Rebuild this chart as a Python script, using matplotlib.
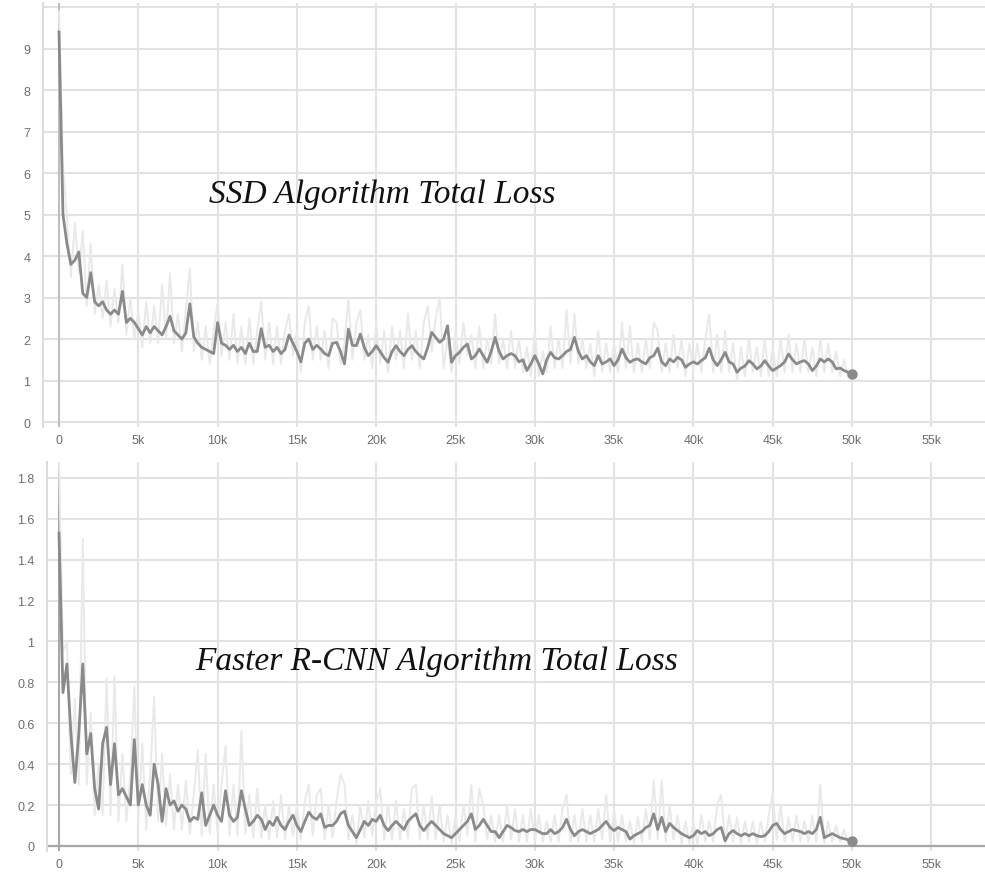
import numpy as np
import matplotlib.pyplot as plt

# training steps, one reading every 250 steps
steps = np.arange(0, 50001, 250)

ssd_smooth = [
    9.4, 5.0, 4.3, 3.8, 3.9, 4.1, 3.1, 3.0, 3.6, 2.9,
    2.8, 2.9, 2.7, 2.6, 2.7, 2.6, 3.15, 2.4, 2.5, 2.4,
    2.25, 2.1, 2.3, 2.15, 2.3, 2.2, 2.1, 2.3, 2.55, 2.2,
    2.1, 2.0, 2.15, 2.85, 2.05, 1.9, 1.8, 1.75, 1.7, 1.65,
    2.4, 1.9, 1.85, 1.75, 1.85, 1.7, 1.8, 1.65, 1.9, 1.7,
    1.7, 2.25, 1.8, 1.85, 1.7, 1.8, 1.65, 1.75, 2.1, 1.9,
    1.7, 1.45, 1.9, 2.0, 1.75, 1.85, 1.76, 1.65, 1.6, 1.9,
    1.92, 1.7, 1.4, 2.24, 1.85, 1.84, 2.12, 1.8, 1.6, 1.7,
    1.84, 1.7, 1.55, 1.44, 1.7, 1.84, 1.7, 1.6, 1.75, 1.84,
    1.7, 1.6, 1.52, 1.8, 2.16, 2.04, 1.92, 2.0, 2.32, 1.44,
    1.6, 1.68, 1.8, 1.88, 1.52, 1.6, 1.76, 1.6, 1.44, 1.7,
    2.04, 1.7, 1.52, 1.6, 1.65, 1.6, 1.45, 1.5, 1.24, 1.4,
    1.6, 1.4, 1.16, 1.5, 1.68, 1.55, 1.52, 1.6, 1.7, 1.75,
    2.04, 1.7, 1.52, 1.6, 1.45, 1.36, 1.6, 1.4, 1.45, 1.52,
    1.36, 1.5, 1.76, 1.55, 1.44, 1.5, 1.52, 1.45, 1.4, 1.55,
    1.6, 1.78, 1.45, 1.36, 1.52, 1.45, 1.56, 1.5, 1.32, 1.4,
    1.45, 1.4, 1.48, 1.55, 1.78, 1.5, 1.36, 1.5, 1.68, 1.45,
    1.4, 1.2, 1.3, 1.35, 1.48, 1.4, 1.28, 1.35, 1.48, 1.35,
    1.24, 1.3, 1.36, 1.45, 1.64, 1.5, 1.4, 1.45, 1.48, 1.4,
    1.24, 1.35, 1.52, 1.45, 1.52, 1.45, 1.28, 1.3, 1.24, 1.2,
    1.16,
]

ssd_raw = [
    9.9, 6.2, 4.9, 3.5, 4.8, 3.6, 4.6, 2.8, 4.3, 2.6,
    3.3, 2.5, 3.4, 2.3, 3.2, 2.4, 3.8, 2.1, 3.0, 2.0,
    2.7, 1.8, 2.9, 1.9, 2.8, 1.9, 3.3, 2.0, 3.6, 1.9,
    2.6, 1.7, 2.7, 3.7, 1.7, 2.4, 1.5, 2.3, 1.4, 2.2,
    2.9, 1.6, 2.4, 1.5, 2.6, 1.4, 2.3, 1.4, 2.5, 1.4,
    2.2, 2.9, 1.5, 2.4, 1.4, 2.3, 1.4, 2.2, 2.6, 1.6,
    2.2, 1.2, 2.4, 2.8, 1.5, 2.3, 1.5, 2.2, 1.3, 2.5,
    2.4, 1.4, 1.9, 3.0, 1.5, 2.4, 2.7, 1.5, 2.1, 1.3,
    2.4, 1.4, 2.2, 1.2, 2.3, 1.5, 2.2, 1.3, 2.6, 1.5,
    2.2, 1.3, 2.4, 2.8, 1.7, 2.5, 3.0, 1.3, 2.0, 1.2,
    2.2, 1.4, 2.4, 1.6, 2.1, 1.3, 2.3, 1.3, 2.0, 1.4,
    2.6, 1.4, 2.0, 1.3, 2.2, 1.3, 2.0, 1.2, 1.8, 1.1,
    2.2, 1.1, 1.7, 1.2, 2.3, 1.3, 2.0, 1.3, 2.7, 1.4,
    2.6, 1.4, 2.0, 1.3, 1.9, 1.1, 2.2, 1.2, 1.9, 1.2,
    1.9, 1.2, 2.4, 1.3, 2.3, 1.2, 1.9, 1.2, 2.0, 1.3,
    2.4, 2.2, 1.2, 1.9, 1.2, 2.1, 1.3, 2.0, 1.1, 1.9,
    1.2, 1.9, 1.2, 2.0, 2.6, 1.2, 2.1, 1.2, 2.2, 1.2,
    1.9, 1.0, 1.8, 1.1, 2.0, 1.2, 1.8, 1.1, 2.0, 1.1,
    1.8, 1.1, 2.0, 1.2, 2.1, 1.2, 1.9, 1.2, 2.0, 1.2,
    1.8, 1.1, 2.0, 1.2, 1.9, 1.2, 1.7, 1.1, 1.5, 1.1,
    1.15,
]

frcnn_smooth = [
    1.53, 0.75, 0.89, 0.55, 0.31, 0.55, 0.89, 0.45, 0.55, 0.28,
    0.18, 0.5, 0.58, 0.3, 0.5, 0.25, 0.28, 0.24, 0.2, 0.52,
    0.2, 0.3, 0.2, 0.15, 0.4, 0.3, 0.12, 0.28, 0.2, 0.22,
    0.17, 0.2, 0.18, 0.12, 0.14, 0.13, 0.26, 0.1, 0.15, 0.2,
    0.15, 0.12, 0.27, 0.15, 0.12, 0.14, 0.27, 0.18, 0.1, 0.12,
    0.15, 0.13, 0.08, 0.12, 0.1, 0.14, 0.1, 0.08, 0.12, 0.15,
    0.1, 0.07, 0.12, 0.165, 0.14, 0.13, 0.157, 0.09, 0.1, 0.1,
    0.12, 0.157, 0.17, 0.1, 0.07, 0.04, 0.08, 0.12, 0.1, 0.13,
    0.12, 0.15, 0.1, 0.075, 0.1, 0.12, 0.1, 0.08, 0.12, 0.14,
    0.157, 0.1, 0.075, 0.1, 0.12, 0.1, 0.08, 0.06, 0.05, 0.04,
    0.06, 0.08, 0.1, 0.12, 0.157, 0.08, 0.1, 0.13, 0.1, 0.07,
    0.07, 0.04, 0.07, 0.1, 0.09, 0.075, 0.07, 0.08, 0.07, 0.08,
    0.08, 0.07, 0.06, 0.06, 0.08, 0.06, 0.07, 0.09, 0.13, 0.08,
    0.05, 0.07, 0.08, 0.07, 0.06, 0.07, 0.08, 0.1, 0.12, 0.09,
    0.075, 0.09, 0.08, 0.07, 0.033, 0.05, 0.06, 0.07, 0.09, 0.1,
    0.157, 0.08, 0.14, 0.07, 0.11, 0.09, 0.075, 0.06, 0.05, 0.04,
    0.05, 0.075, 0.06, 0.07, 0.05, 0.06, 0.08, 0.09, 0.025, 0.06,
    0.075, 0.06, 0.05, 0.06, 0.05, 0.06, 0.05, 0.045, 0.05, 0.07,
    0.1, 0.11, 0.08, 0.06, 0.07, 0.08, 0.075, 0.07, 0.06, 0.07,
    0.06, 0.08, 0.14, 0.04, 0.05, 0.06, 0.05, 0.04, 0.035, 0.03,
    0.025,
]

frcnn_raw = [
    1.88, 0.95, 1.0, 0.35, 0.72, 0.3, 1.5, 0.3, 0.65, 0.15,
    0.4, 0.15, 0.82, 0.15, 0.83, 0.12, 0.45, 0.12, 0.35, 0.78,
    0.12, 0.5, 0.08, 0.35, 0.73, 0.12, 0.45, 0.1, 0.35, 0.08,
    0.3, 0.08, 0.32, 0.06, 0.25, 0.47, 0.05, 0.45, 0.06, 0.3,
    0.06, 0.3, 0.49, 0.05, 0.3, 0.05, 0.56, 0.06, 0.25, 0.04,
    0.28, 0.04, 0.2, 0.03, 0.22, 0.04, 0.25, 0.03, 0.2, 0.05,
    0.2, 0.03, 0.22, 0.3, 0.05, 0.25, 0.28, 0.03, 0.2, 0.04,
    0.22, 0.35, 0.3, 0.03, 0.15, 0.01, 0.2, 0.04, 0.22, 0.05,
    0.22, 0.28, 0.03, 0.2, 0.03, 0.22, 0.03, 0.18, 0.04, 0.28,
    0.3, 0.03, 0.2, 0.03, 0.24, 0.03, 0.2, 0.02, 0.15, 0.01,
    0.15, 0.02, 0.2, 0.05, 0.3, 0.02, 0.28, 0.2, 0.03, 0.15,
    0.02, 0.15, 0.02, 0.2, 0.03, 0.18, 0.02, 0.15, 0.02, 0.18,
    0.02, 0.15, 0.02, 0.12, 0.02, 0.15, 0.02, 0.18, 0.25, 0.02,
    0.15, 0.02, 0.18, 0.02, 0.15, 0.02, 0.18, 0.03, 0.25, 0.02,
    0.18, 0.02, 0.15, 0.02, 0.12, 0.01, 0.14, 0.02, 0.18, 0.03,
    0.32, 0.03, 0.32, 0.02, 0.2, 0.03, 0.15, 0.01, 0.12, 0.01,
    0.12, 0.01, 0.15, 0.02, 0.12, 0.02, 0.2, 0.25, 0.01, 0.15,
    0.02, 0.14, 0.01, 0.12, 0.02, 0.12, 0.01, 0.12, 0.02, 0.15,
    0.26, 0.03, 0.2, 0.02, 0.14, 0.02, 0.15, 0.02, 0.12, 0.02,
    0.15, 0.02, 0.3, 0.01, 0.12, 0.02, 0.1, 0.02, 0.08, 0.02,
    0.025,
]

x_ticks = [0, 5000, 10000, 15000, 20000, 25000, 30000, 35000, 40000, 45000, 50000, 55000]
x_labels = ['0', '5k', '10k', '15k', '20k', '25k', '30k', '35k', '40k', '45k', '50k', '55k']
ssd_yticks = [0, 1, 2, 3, 4, 5, 6, 7, 8, 9, 10]
ssd_ylabels = ['0', '1', '2', '3', '4', '5', '6', '7', '8', '9', '']
frcnn_yticks = [0, 0.2, 0.4, 0.6, 0.8, 1.0, 1.2, 1.4, 1.6, 1.8]
frcnn_ylabels = ['0', '0.2', '0.4', '0.6', '0.8', '1', '1.2', '1.4', '1.6', '1.8']

W, H = 985, 878
fig = plt.figure(figsize=(W / 100, H / 100), dpi=100)
fig.patch.set_facecolor('white')

grid_c = '#e2e2e2'
line_c = '#8a8a8a'
raw_c = '#e9e9e9'
tick_font = dict(family=['Liberation Sans', 'DejaVu Sans'], size=9)


def panel(rect, xlim, ylim, smooth, raw, yticks, ylabels, zero_c, zero_h, title, tpos):
    ax = fig.add_axes(rect)
    ax.set_xlim(*xlim)
    ax.set_ylim(*ylim)
    ax.set_xticks(x_ticks)
    ax.set_xticklabels(x_labels, **tick_font)
    ax.set_yticks(yticks)
    ax.set_yticklabels(ylabels, **tick_font)
    ax.tick_params(length=0, colors='#6e6e6e', pad=5)
    ax.tick_params(axis='y', pad=9)
    ax.grid(True, color=grid_c, lw=1.5)
    ax.set_axisbelow(True)
    for s in ax.spines.values():
        s.set_visible(False)
    ax.spines['left'].set_visible(True)
    ax.spines['left'].set_color('#dcdcdc')
    ax.spines['left'].set_linewidth(1.5)
    ax.axvline(0, color=zero_c, lw=1.4, zorder=1)
    if zero_h:
        ax.axhline(0, color=zero_c, lw=1.6, zorder=1)
    ax.plot(steps, raw, color=raw_c, lw=1.4, zorder=2)
    ax.plot(steps, smooth, color=line_c, lw=2.0, zorder=3)
    ax.plot(steps[-1:], smooth[-1:], 'o', color=line_c, ms=6.5, zorder=4)
    ax.text(tpos[0], tpos[1], title, transform=ax.transAxes, ha='center', va='center',
            fontsize=24, style='italic', family=['Liberation Serif', 'DejaVu Serif'], color='#111111')
    return ax


px = 15.86 / 1000  # pixels per step
panel([43 / W, 1 - 428 / H, (W - 43) / W, (428 - 4) / H],
      ((43 - 59) / px, (W - 59) / px), (-0.12, 10.1),
      ssd_smooth, ssd_raw, ssd_yticks, ssd_ylabels, '#bdbdbd', False,
      'SSD Algorithm Total Loss', ((382 - 43) / (W - 43), (428 - 195) / (428 - 4)))

panel([47 / W, 1 - 852 / H, (W - 47) / W, (852 - 463) / H],
      ((47 - 59) / px, (W - 59) / px), (-0.025, 1.878),
      frcnn_smooth, frcnn_raw, frcnn_yticks, frcnn_ylabels, '#a6a6a6', True,
      'Faster R-CNN Algorithm Total Loss', ((437 - 47) / (W - 47), (852 - 662) / (852 - 463)))

fig.savefig('out.png', dpi=100, facecolor='white')
